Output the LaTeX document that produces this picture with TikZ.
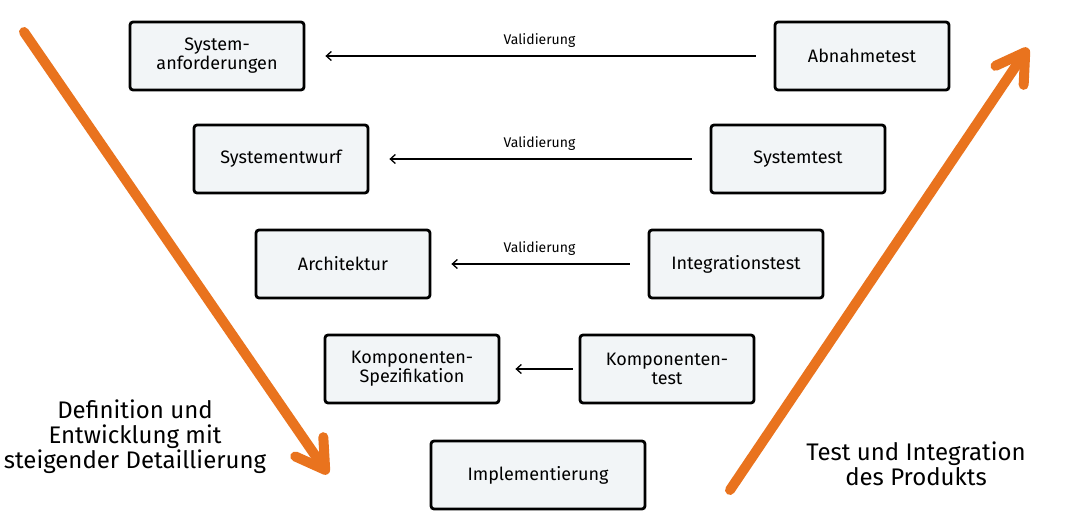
\documentclass[tikz,border=0pt]{standalone}
\usepackage{fontspec}
\setmainfont{Fira Sans}
\usetikzlibrary{arrows.meta}
\definecolor{boxfill}{HTML}{F2F5F7}
\definecolor{vorange}{HTML}{E9731E}
\tikzset{
	box/.style={draw,line width=2.8pt,rounded corners=3pt,fill=boxfill,align=center,minimum width=174pt,minimum height=68pt,inner sep=2pt,font=\fontsize{18}{19}\selectfont},
	arr/.style={-{Straight Barb[length=5pt,width=9pt]},line width=1.3pt},
	lbl/.style={font=\fontsize{14}{16}\selectfont,above=5pt},
	big/.style={line width=10pt,vorange,line cap=round,-{Straight Barb[length=28pt,width=34pt,round]}},
	txt/.style={align=center,font=\fontsize{24}{25}\selectfont}
}
\begin{document}
\begin{tikzpicture}[x=1pt,y=-1pt]
	\useasboundingbox (0,0) rectangle (1065,521);
	\foreach \n/\p/\t in {anf/{217,56}/{System-\\anforderungen},entw/{281,159}/{Systementwurf},arch/{343,264}/{Architektur},komp/{412,369}/{Komponenten-\\Spezifikation},abn/{862,56}/{Abnahmetest},sys/{798,159}/{Systemtest},int/{736,264}/{Integrationstest},ktest/{667,369}/{Komponenten-\\test}}
		\node[box] (\n) at (\p) {\t};
	\node[box,minimum width=214pt] (impl) at (538,475) {Implementierung};
	\foreach \a/\b in {abn/anf,sys/entw,int/arch}
		\draw[arr,shorten <=18pt,shorten >=20pt] (\a) -- node[lbl]{Validierung} (\b);
	\draw[arr,shorten <=6pt,shorten >=15pt] (ktest) -- (komp);
	% orange arrows
	\coordinate (ls) at (24,32); \coordinate (le) at (328,474);
	\coordinate (rs) at (730,490); \coordinate (re) at (1028,48);
	\draw[big] (ls) -- (le);
	\draw[big] (rs) -- (re);
	\node[txt] (deftxt) at (135,437) {Definition und\\Entwicklung mit\\steigender Detaillierung};
	\node[txt] (testtxt) at (916,464) {Test und Integration\\des Produkts};
\end{tikzpicture}
\end{document}
